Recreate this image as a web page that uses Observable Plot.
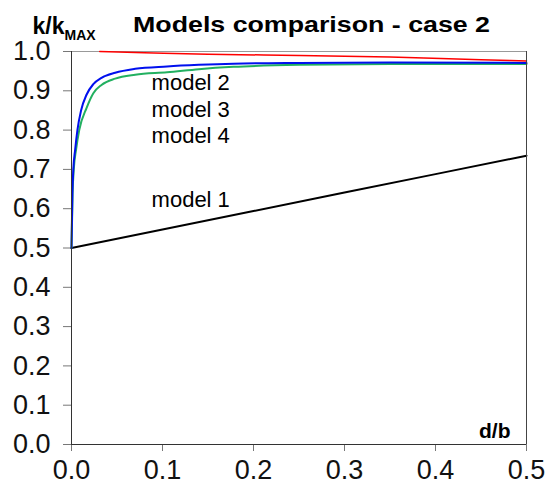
<!DOCTYPE html>
<html><head><meta charset="utf-8">
<script src="https://cdn.jsdelivr.net/npm/d3@7"></script>
<script src="https://cdn.jsdelivr.net/npm/@observablehq/plot@0.6"></script>
<style>body{margin:0;background:#fff}</style>
</head><body><div id="chart"></div>
<script>
const xTicks = [0, 0.1, 0.2, 0.3, 0.4, 0.5];
const yTicks = [0, 0.1, 0.2, 0.3, 0.4, 0.5, 0.6, 0.7, 0.8, 0.9, 1.0];

const redX = [0.031, 0.08, 0.15, 0.25, 0.35, 0.45, 0.5];
const redY = [1.0, 0.997, 0.993, 0.990, 0.986, 0.979, 0.976];

const blueX = [0, 0.001, 0.002, 0.004, 0.0065, 0.0105, 0.0165, 0.024, 0.033, 0.048, 0.07, 0.105, 0.14, 0.178, 0.25, 0.35, 0.5];
const blueY = [0.5, 0.64, 0.70, 0.75, 0.80, 0.85, 0.89, 0.917, 0.933, 0.946, 0.956, 0.962, 0.966, 0.969, 0.971, 0.972, 0.971];

const greenX = [0, 0.0012, 0.0025, 0.005, 0.0085, 0.0165, 0.024, 0.033, 0.048, 0.07, 0.105, 0.14, 0.178, 0.25, 0.35, 0.5];
const greenY = [0.5, 0.64, 0.70, 0.75, 0.80, 0.856, 0.894, 0.915, 0.931, 0.941, 0.947, 0.955, 0.961, 0.966, 0.968, 0.968];

const blackX = [0, 0.1, 0.2, 0.3, 0.4, 0.5];
const blackY = [0.5, 0.547, 0.594, 0.641, 0.688, 0.735];

const labelText = ["model 2", "model 3", "model 4", "model 1"];
const labelX = [0.088, 0.088, 0.088, 0.088];
const labelY = [0.921, 0.852, 0.784, 0.623];

const rows = (xs, ys) => xs.map((x, i) => ({x, y: ys[i]}));
const labels = labelText.map((t, i) => ({t, x: labelX[i], y: labelY[i]}));
const fmt = d => d.toFixed(1);
const titleText = "Models comparison - case 2";

const chart = Plot.plot({
  width: 547, height: 488,
  marginLeft: 71, marginRight: 21, marginTop: 51, marginBottom: 44,
  style: {fontFamily: "'Liberation Sans', Arial, sans-serif", color: "#000", background: "#fff"},
  x: {domain: [0, 0.5], label: null},
  y: {domain: [0, 1], label: null},
  marks: [
    Plot.frame({stroke: "#999"}),
    Plot.axisX(xTicks, {label: null, tickSize: 7, tickPadding: 8, fontSize: 27, tickFormat: fmt, stroke: "#777", fill: "#111"}),
    Plot.axisY(yTicks, {label: null, tickSize: 8, tickPadding: 13, fontSize: 27, tickFormat: fmt, stroke: "#777", fill: "#111"}),
    Plot.line(rows(blackX, blackY), {x: "x", y: "y", stroke: "#000", strokeWidth: 2}),
    Plot.line(rows(greenX, greenY), {x: "x", y: "y", stroke: "#22b060", strokeWidth: 2, curve: "monotone-x"}),
    Plot.line(rows(blueX, blueY), {x: "x", y: "y", stroke: "#0010ee", strokeWidth: 2, curve: "monotone-x"}),
    Plot.line(rows(redX, redY), {x: "x", y: "y", stroke: "#ff0000", strokeWidth: 1.5, curve: "monotone-x"}),
    Plot.ruleX([0], {stroke: "#333"}),
    Plot.ruleX([0.5], {stroke: "#444"}),
    Plot.ruleY([0], {stroke: "#333"}),
    Plot.text(labels, {x: "x", y: "y", text: "t", textAnchor: "start", fontSize: 22, fill: "#000"}),
    Plot.text(["d/b"], {frameAnchor: "bottom-right", dx: -16, dy: -7, textAnchor: "end", lineAnchor: "bottom", fontSize: 21, fontWeight: "bold"}),
    Plot.text([titleText], {frameAnchor: "top-left", dx: 240, dy: -27, textAnchor: "middle", lineAnchor: "middle", fontSize: 22, fontWeight: "bold"}),
    Plot.text(["k/k"], {frameAnchor: "top-left", dx: -39, dy: -18, textAnchor: "start", lineAnchor: "bottom", fontSize: 23, fontWeight: "bold"}),
    Plot.text(["MAX"], {frameAnchor: "top-left", dx: -7, dy: -12, textAnchor: "start", lineAnchor: "bottom", fontSize: 14, fontWeight: "bold"})
  ]
});
d3.select(chart).selectAll("text")
  .filter(function() { return this.textContent === titleText; })
  .attr("textLength", 357)
  .attr("lengthAdjust", "spacingAndGlyphs");
document.getElementById("chart").append(chart);
</script>
</body></html>
